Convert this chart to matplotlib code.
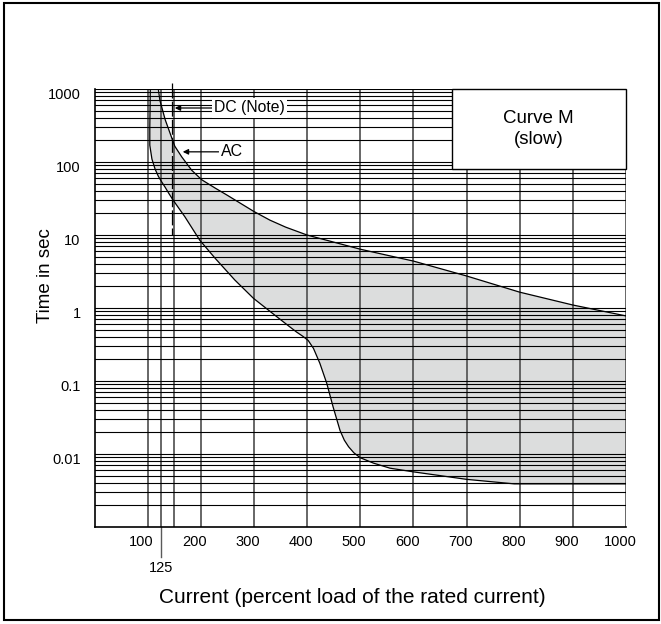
import numpy as np
import matplotlib
matplotlib.use("Agg")
import matplotlib.pyplot as plt
from matplotlib.patches import Rectangle
from matplotlib.transforms import ScaledTranslation, blended_transform_factory

plt.rcParams['font.family'] = ['Liberation Sans', 'DejaVu Sans']

# tripping curve M (slow) - lower / upper limits, current in % vs time in s
lower_x = [105, 104, 104, 108, 114, 120, 126, 133, 140, 148, 170, 198, 227, 264, 299, 343,
           365, 380, 392, 402, 412, 424, 437, 449, 462, 470, 478, 488, 500, 525, 556, 600,
           700, 790, 1000]
lower_t = [1000, 300, 170, 110, 80, 64, 54, 45, 37, 30, 17.8, 8.5, 4.8, 2.42, 1.36, 0.76,
           0.57, 0.47, 0.41, 0.36, 0.28, 0.175, 0.093, 0.044, 0.021, 0.0155, 0.0126, 0.0104,
           0.0089, 0.0075, 0.0064, 0.0057, 0.0045, 0.0039, 0.0039]
upper_x = [120, 123, 133, 142, 151, 164, 183, 202, 227, 250, 300, 330, 360, 400, 450, 500,
           550, 600, 700, 800, 900, 1000]
upper_t = [1000, 700, 380, 250, 165, 118, 77, 57, 44, 35, 21, 16, 12.8, 10, 8.0, 6.4,
           5.3, 4.4, 2.75, 1.65, 1.1, 0.78]

dc_x = 145          # DC limit (dashed)
dc_t = [1200, 10]

grid_x = [100, 125, 150, 200, 300, 400, 500, 600, 700, 800, 900, 1000]
xtick_vals = [100, 200, 300, 400, 500, 600, 700, 800, 900, 1000]
ytick_vals = [0.01, 0.1, 1, 10, 100, 1000]
ytick_labels = ["0.01", "0.1", "1", "10", "100", "1000"]

fig = plt.figure(figsize=(6.61, 6.24), dpi=100)
ax = fig.add_axes([0.143, 0.1554, 0.804, 0.7019])
ax.set_yscale("log")
ax.set_xlim(0, 1000)
ax.set_ylim(0.001, 1000)

# shaded band between the curves
poly_x = list(lower_x) + [1000] + list(upper_x[::-1])
poly_t = list(lower_t) + [upper_t[-1]] + list(upper_t[::-1])
ax.fill(poly_x, poly_t, color="#dcdddd", lw=0, zorder=1)

# grid
ax.grid(True, which="both", axis="y", color="black", lw=0.8, zorder=2)
ax.set_axisbelow(False)
for gx in grid_x:
    ax.axvline(gx, color="#5a5a5a", lw=1.3, zorder=2)

ax.plot(lower_x, lower_t, color="black", lw=0.9, zorder=4)
ax.plot(upper_x, upper_t, color="black", lw=0.9, zorder=4)
ax.plot([dc_x, dc_x], dc_t, color="black", lw=0.9, ls=(0, (12, 2.5)), zorder=4, clip_on=False)

for s in ["top", "right"]:
    ax.spines[s].set_visible(False)
ax.spines["left"].set_linewidth(1.2)
ax.spines["bottom"].set_linewidth(1.2)

ax.set_xticks(xtick_vals)
ax.set_xticklabels([str(v) for v in xtick_vals])
ax.set_yticks(ytick_vals)
ax.set_yticklabels(ytick_labels)
ax.tick_params(axis="both", which="both", length=0, labelsize=10.5)
ax.tick_params(axis="x", pad=6)
ax.tick_params(axis="y", pad=10)
ax.yaxis.set_minor_formatter(plt.NullFormatter())
for lab in ax.get_xticklabels():
    lab.set_transform(lab.get_transform() + ScaledTranslation(-0.06, 0, fig.dpi_scale_trans))
for lab in ax.get_yticklabels():
    lab.set_transform(lab.get_transform() + ScaledTranslation(0, -0.04, fig.dpi_scale_trans))

# 125 % marker below the axis
trans = blended_transform_factory(ax.transData, ax.transAxes)
ax.plot([125, 125], [0, -0.068], color="#5a5a5a", lw=1.0, transform=trans, clip_on=False)
ax.text(125, -0.094, "125", transform=trans, ha="center", va="center", fontsize=10.5)

ax.text(0.486, -0.161, "Current (percent load of the rated current)", transform=ax.transAxes,
        ha="center", va="center", fontsize=15)
ax.text(-0.093, 0.575, "Time in sec", transform=ax.transAxes, rotation=90,
        ha="center", va="center", fontsize=13.5)

# legend box
ax.add_patch(Rectangle((0.673, 0.817), 0.327, 0.183, transform=ax.transAxes,
                       facecolor="white", edgecolor="black", lw=1.0, zorder=6, clip_on=False))
ax.text(0.836, 0.908, "Curve M\n(slow)", transform=ax.transAxes, ha="center", va="center",
        fontsize=13.5, linespacing=1.3, zorder=7)

# DC / AC pointers
ax.annotate("DC (Note)", xy=(151, 550), xytext=(292, 550), ha="center", va="center",
            fontsize=11.3, zorder=7,
            bbox=dict(boxstyle="square,pad=0.15", fc="white", ec="none"),
            arrowprops=dict(arrowstyle="-|>", color="black", lw=0.9, mutation_scale=8,
                            shrinkA=0, shrinkB=0))
ax.annotate("AC", xy=(166, 138), xytext=(259, 138), ha="center", va="center",
            fontsize=11.5, zorder=7,
            bbox=dict(boxstyle="square,pad=0.15", fc="white", ec="none"),
            arrowprops=dict(arrowstyle="-|>", color="black", lw=0.9, mutation_scale=8,
                            shrinkA=0, shrinkB=0))

# outer frame
fig.patches.append(Rectangle((4 / 661, 4 / 624), 655 / 661, 617 / 624, transform=fig.transFigure,
                             fill=False, edgecolor="black", lw=1.5))

fig.savefig("out.png", dpi=100)
